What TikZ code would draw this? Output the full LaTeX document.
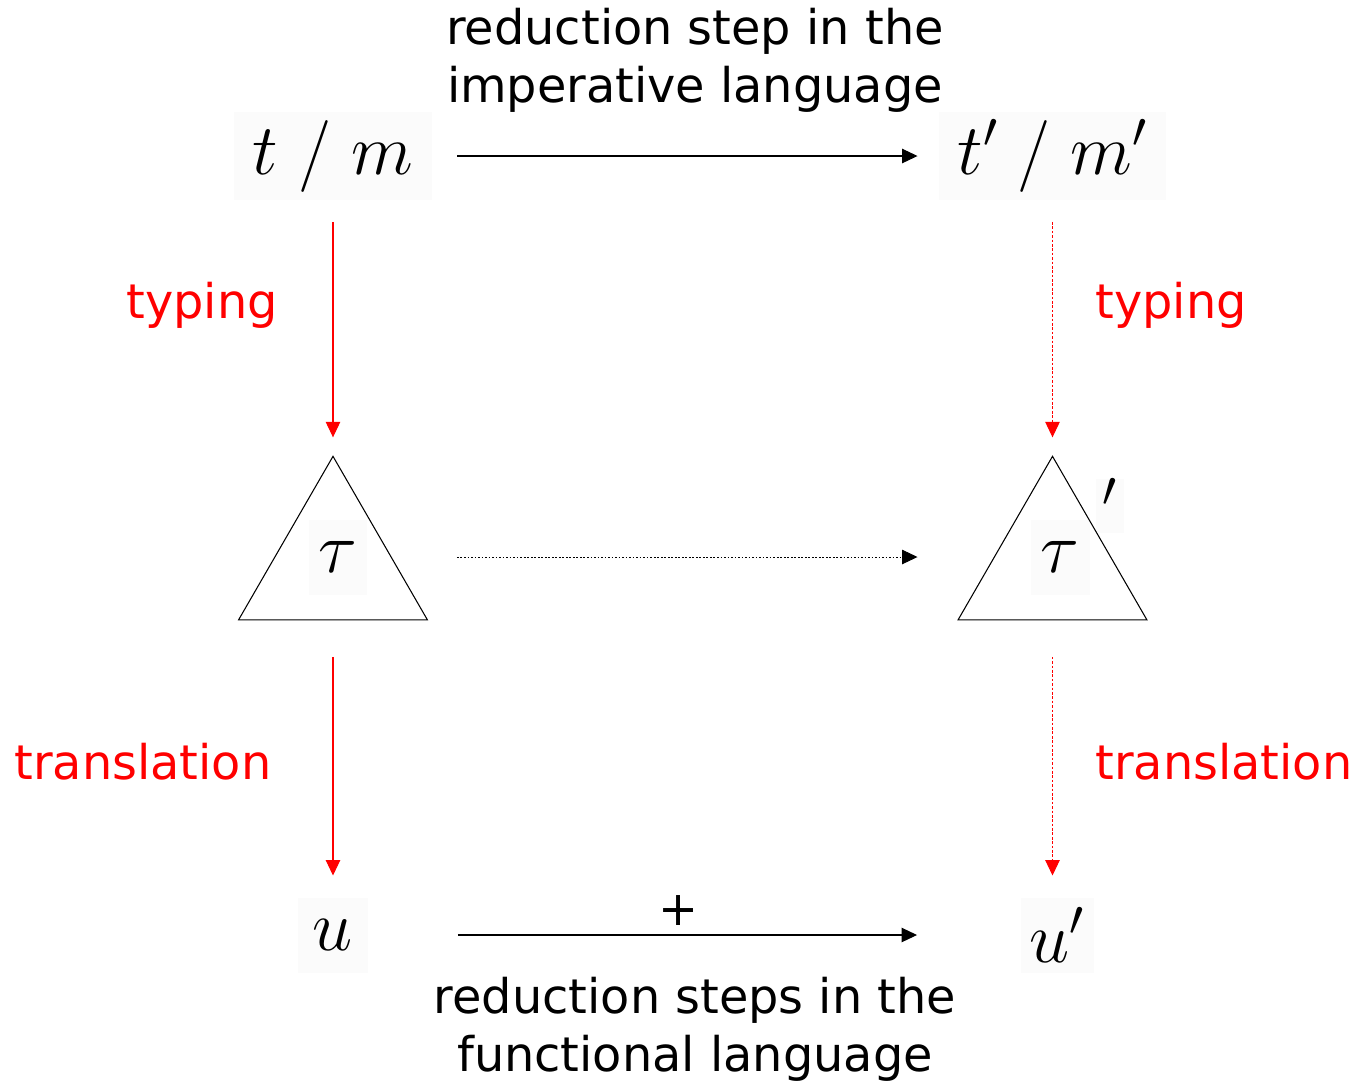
\RequirePackage{fix-cm}
\documentclass[tikz,border=0pt]{standalone}
\usepackage{fontspec}
\newfontfamily\labelfont{DejaVu Sans}
\usetikzlibrary{arrows.meta,positioning,shapes.geometric}

\begin{document}
\begin{tikzpicture}[
  x=0.02cm, y=-0.02cm,
  >={Triangle[length=0.31cm,width=0.29cm]},
  mathbox/.style={fill=black!1.5, inner sep=0pt, outer sep=0pt,
    font=\fontsize{41}{41}\selectfont},
  txt/.style={font=\labelfont\fontsize{27.2}{33}\selectfont, align=center, inner sep=0pt},
  redtxt/.style={txt, text=red},
  tri/.style={draw, regular polygon, regular polygon sides=3, minimum size=4.36cm,
    inner sep=0pt, outer sep=0pt, line width=0.6pt},
  arr/.style={->, line width=0.6pt},
  dotarr/.style={arr, line width=0.5pt, dash pattern=on 1pt off 1pt},
  redarr/.style={arr, red},
  reddotarr/.style={redarr, line width=0.6pt, dash pattern=on 1.5pt off 1pt},
]
\useasboundingbox (0,0) rectangle (1357,1083);

% Top row
\node[mathbox, minimum width=3.98cm, minimum height=1.76cm] (tm) at (333,156) {$t\;/\;m$};
\node[mathbox, minimum width=4.56cm, minimum height=1.76cm] (tm2) at (1052.5,156) {$t'\;/\;m'$};
\node[txt] (imp) at (695,60) {reduction step in the\\imperative language};

% Typing
\node[mathbox, minimum width=1.16cm, minimum height=1.5cm] (tau1) at (338,557) {$\tau$};
\node[mathbox, minimum width=1.18cm, minimum height=1.5cm] (tau2) at (1060,557) {$\tau$};
\node[mathbox, minimum width=0.56cm, anchor=base] (prime) at (1110,533) {$^\prime$};
\node[tri] (tri1) at (333,565.3) {};
\node[tri] (tri2) at (1052.5,565.3) {};
\node[redtxt] (typ1) at (202,305) {typing};
\node[redtxt] (typ2) at (1171,305) {typing};

% Translation
\node[mathbox, minimum width=1.42cm, minimum height=1.5cm] (u1) at (333,935) {$u$};
\node[mathbox, minimum width=1.46cm, minimum height=1.5cm] (u2) at (1057,935) {$u'$};
\node[redtxt] (tr1) at (143,762) {translation};
\node[redtxt] (tr2) at (1224,762) {translation};
\node[txt] (fun) at (695,1029) {reduction steps in the\\functional language};

% Arrows
\draw[arr, shorten <=0.5cm, shorten >=0.42cm] (tm.east) -- (tm2.west);
\draw[dotarr, shorten <=1.8cm, shorten >=2.26cm] (tau1.east) -- (tau2.west);
\draw[arr, shorten <=1.79cm, shorten >=2.07cm] (u1.east) -- (u2.west)
  node[txt, pos=0.475, above=0.18cm] (plus) {+};
\draw[redarr, shorten <=0.44cm, shorten >=0.38cm] (tm.south) -- (tri1.corner 1);
\draw[reddotarr, shorten <=0.44cm, shorten >=0.38cm] (tm2.south) -- (tri2.corner 1);
\draw[redarr, shorten <=0.74cm, shorten >=0.44cm] (tri1.south) -- (u1.north);
\draw[reddotarr, shorten <=0.74cm, shorten >=0.44cm] (tri2.south) -- (tri2.south |- u2.north);
\end{tikzpicture}
\end{document}
